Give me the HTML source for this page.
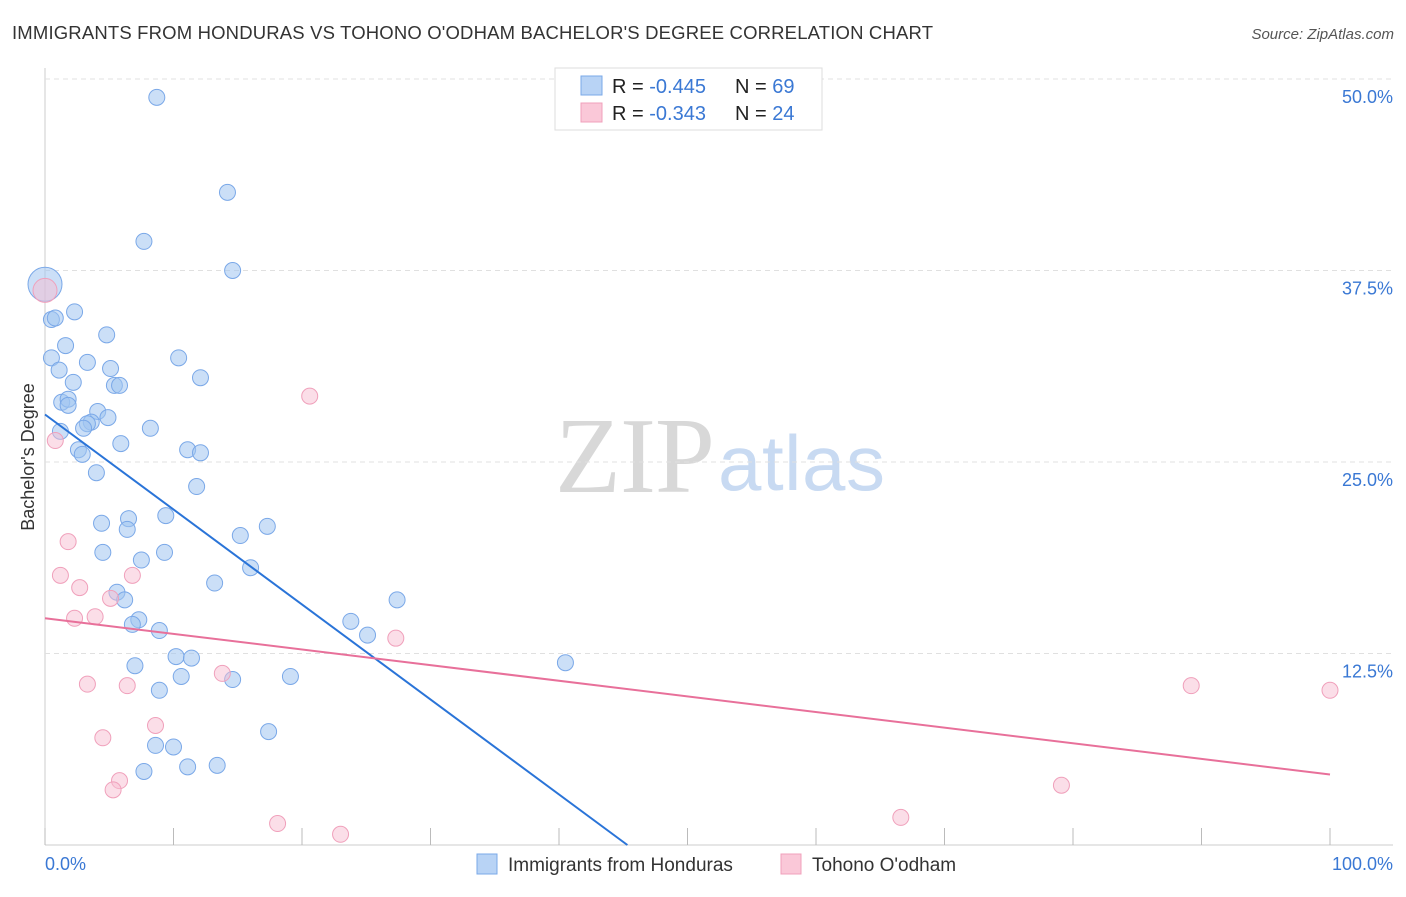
<!DOCTYPE html>
<html><head><meta charset="utf-8"><style>
body{margin:0;background:#fff;font-family:"Liberation Sans",sans-serif;}
</style></head><body>
<svg id="chart" width="1406" height="892" xmlns="http://www.w3.org/2000/svg">
<text x="12" y="39" font-size="18.5" fill="#333" textLength="921">IMMIGRANTS FROM HONDURAS VS TOHONO O'ODHAM BACHELOR'S DEGREE CORRELATION CHART</text>
<text x="1394" y="39" font-size="15" fill="#555" font-style="italic" text-anchor="end">Source: ZipAtlas.com</text>
<text x="555" y="492" font-size="108" fill="#d8d8d8" font-family="Liberation Serif,serif" textLength="160">ZIP</text>
<text x="718" y="490" font-size="78" fill="#c8daf2" textLength="167">atlas</text>
<text x="34" y="457" font-size="18" fill="#333" text-anchor="middle" transform="rotate(-90 34 457)">Bachelor's Degree</text>
<g id="grid"></g><g id="pts"></g><g id="lines"></g>
<text x="45" y="870" font-size="18" fill="#3a78d4">0.0%</text>
<text x="1393" y="870" font-size="18" fill="#3a78d4" text-anchor="end">100.0%</text>
<g>
<rect x="555" y="68" width="267" height="62" fill="#fff" stroke="#ddd"/>
<rect x="581" y="76" width="21" height="19" fill="#b8d3f5" stroke="#7aa8e8"/>
<rect x="581" y="103" width="21" height="19" fill="#fac8d8" stroke="#f0a0bb"/>
<text x="612" y="93" font-size="20" fill="#222">R = <tspan fill="#3a78d4">-0.445</tspan><tspan x="735">N = </tspan><tspan fill="#3a78d4">69</tspan></text>
<text x="612" y="120" font-size="20" fill="#222">R =  <tspan fill="#3a78d4">-0.343</tspan><tspan x="735">N = </tspan><tspan fill="#3a78d4">24</tspan></text>
</g>
<g>
<rect x="477" y="854" width="20" height="20" fill="#b8d3f5" stroke="#7aa8e8"/>
<text x="508" y="871" font-size="19" fill="#333">Immigrants from Honduras</text>
<rect x="781" y="854" width="20" height="20" fill="#fac8d8" stroke="#f0a0bb"/>
<text x="812" y="871" font-size="19" fill="#333">Tohono O'odham</text>
</g>
</svg>
<script>
const yTicks=[12.5,25,37.5,50];
const xTickCount=10;
const blueX=[8.7,14.2,7.7,14.6,0,2.3,0.5,0.8,4.8,1.6,0.5,10.4,3.3,1.1,5.1,2.2,5.4,5.8,12.1,1.3,1.8,1.8,4.1,4.9,3.6,3.3,3.0,1.2,8.2,5.9,2.6,2.9,11.1,12.1,4.0,11.8,9.4,6.5,4.4,6.4,17.3,15.2,4.5,9.3,7.5,16.0,13.2,5.6,6.2,27.4,7.3,6.8,23.8,25.1,8.9,10.2,11.4,7.0,40.5,10.6,14.6,19.1,8.9,17.4,8.6,10.0,7.7,11.1,13.4];
const blueY=[48.8,42.6,39.4,37.5,36.6,34.8,34.3,34.4,33.3,32.6,31.8,31.8,31.5,31.0,31.1,30.2,30.0,30.0,30.5,28.9,29.1,28.7,28.3,27.9,27.6,27.5,27.2,27.0,27.2,26.2,25.8,25.5,25.8,25.6,24.3,23.4,21.5,21.3,21.0,20.6,20.8,20.2,19.1,19.1,18.6,18.1,17.1,16.5,16.0,16.0,14.7,14.4,14.6,13.7,14.0,12.3,12.2,11.7,11.9,11.0,10.8,11.0,10.1,7.4,6.5,6.4,4.8,5.1,5.2];
const pinkX=[0,0.8,1.8,1.2,6.8,2.7,5.1,3.9,2.3,20.6,27.3,3.3,6.4,13.8,8.6,4.5,5.8,5.3,18.1,23.0,66.6,79.1,89.2,100];
const pinkY=[36.2,26.4,19.8,17.6,17.6,16.8,16.1,14.9,14.8,29.3,13.5,10.5,10.4,11.2,7.8,7.0,4.2,3.6,1.4,0.7,1.8,3.9,10.4,10.1];
const blueTrend=[28.1,-0.62];
const pinkTrend=[14.8,-0.102];
const NS="http://www.w3.org/2000/svg";
const X=v=>45+v*12.85, Y=v=>845-v*15.32;
function mk(t,a,p){const e=document.createElementNS(NS,t);for(const k in a)e.setAttribute(k,a[k]);p.appendChild(e);return e;}
const g=document.getElementById('grid');
mk('line',{x1:45,y1:68,x2:45,y2:845,stroke:'#ccc'},g);
mk('line',{x1:45,y1:845,x2:1393,y2:845,stroke:'#ccc'},g);
yTicks.forEach(t=>{
 const l=mk('line',{x1:45,y1:Y(t),x2:1393,y2:Y(t),stroke:'#e0e0e0','stroke-dasharray':'5,4'},g);
 
 
 const tx=mk('text',{x:1393,y:Y(t)+24,'font-size':18,fill:'#3a78d4','text-anchor':'end'},g);
 tx.textContent=t.toFixed(1)+'%';
 
 
});
for(let i=0;i<=xTickCount;i++){
 const l=mk('line',{x1:X(i*10),y1:828,x2:X(i*10),y2:845,stroke:'#bbb'},g);
 
 
}
const p=document.getElementById('pts');
blueX.forEach((v,i)=>{
 const c=mk('circle',{cx:X(v),cy:Y(blueY[i]),r:(i==4?17:8),fill:'rgba(160,196,240,0.55)',stroke:'#7aa8e8','stroke-width':1},p);
 
 
});
pinkX.forEach((v,i)=>{
 const c=mk('circle',{cx:X(v),cy:Y(pinkY[i]),r:(i==0?12:8),fill:'rgba(248,190,210,0.5)',stroke:'#f0a0bb','stroke-width':1},p);
 
 
});
const L=document.getElementById('lines');
const bx2=-blueTrend[0]/blueTrend[1];
const bl=mk('line',{x1:X(0),y1:Y(blueTrend[0]),x2:X(bx2),y2:Y(0),stroke:'#2a74d8','stroke-width':2},L);


const pl=mk('line',{x1:X(0),y1:Y(pinkTrend[0]),x2:X(100),y2:Y(pinkTrend[0]+pinkTrend[1]*100),stroke:'#e8709a','stroke-width':2},L);


</script>
</body></html>
